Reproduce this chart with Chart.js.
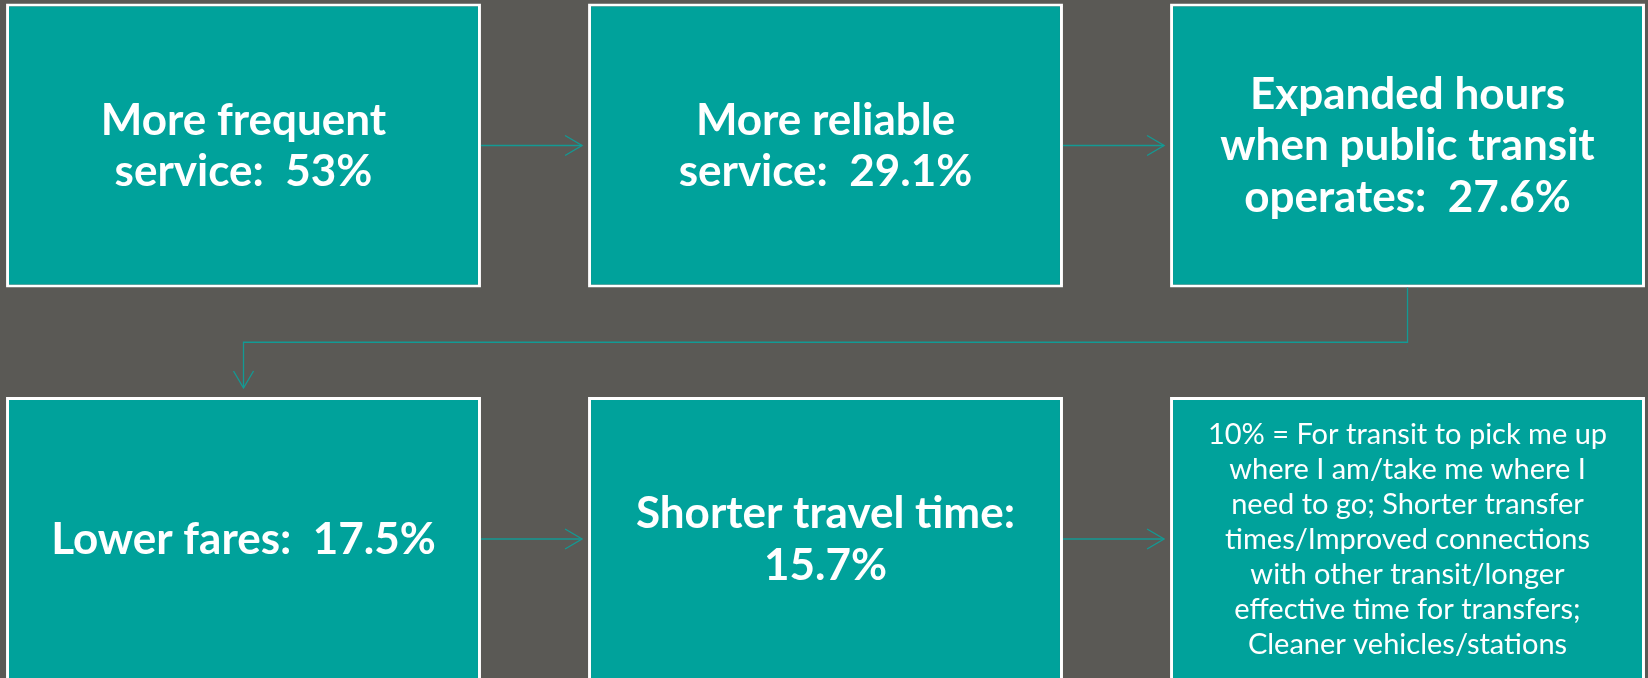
<!DOCTYPE html>
<html>
<head>
<meta charset="utf-8">
<script src="https://cdn.jsdelivr.net/npm/chart.js@4"></script>
<style>
  html, body { margin: 0; padding: 0; background: #5a5955; }
  #wrap { width: 1648px; height: 678px; }
</style>
</head>
<body>
<div id="wrap"><canvas id="flowChart"></canvas></div>
<script>
// Survey answers, in reading order (row 1 then row 2)
const categories = [
    'More frequent service',
    'More reliable service',
    'Expanded hours when public transit operates',
    'Lower fares',
    'Shorter travel time',
    'Other improvements'
];
const percentValues = [53, 29.1, 27.6, 17.5, 15.7, 10];

// Text shown in each box, line by line
const boxLines = [
    ['More frequent', 'service:  53%'],
    ['More reliable', 'service:  29.1%'],
    ['Expanded hours', 'when public transit', 'operates:  27.6%'],
    ['Lower fares:  17.5%'],
    ['Shorter travel time:', '15.7%'],
    ['10% = For transit to pick me up', 'where I am/take me where I', 'need to go; Shorter transfer',
     'times/Improved connections', 'with other transit/longer', 'effective time for transfers;',
     'Cleaner vehicles/stations']
];
const boldBox = [true, true, true, true, true, false];

const TEAL = '#00a29b';
const LINE_TEAL = '#139a94';
const COLS = 3;
const BOX_H = 0.7217;   // box height in row units

// Background
const bgPlugin = {
    id: 'bg',
    beforeDraw(chart) {
        const c = chart.ctx;
        c.save();
        c.fillStyle = '#5a5955';
        c.fillRect(0, 0, chart.width, chart.height);
        c.restore();
    }
};

function arrowHead(c, x, y, dir) {
    c.beginPath();
    if (dir === 'right') {
        c.moveTo(x - 17, y - 10); c.lineTo(x, y); c.lineTo(x - 17, y + 10);
    } else {
        c.moveTo(x - 10, y - 17); c.lineTo(x, y); c.lineTo(x + 10, y - 17);
    }
    c.stroke();
}

// Connectors and box text
const flowPlugin = {
    id: 'flow',
    afterDatasetsDraw(chart) {
        const c = chart.ctx;
        const els = chart.getDatasetMeta(0).data;
        const box = els.map(el => {
            const p = el.getProps(['x', 'y', 'base', 'width'], true);
            return { l: p.x - p.width / 2, r: p.x + p.width / 2, cx: p.x,
                     t: Math.min(p.y, p.base), b: Math.max(p.y, p.base), cy: (p.y + p.base) / 2 };
        });

        c.save();
        c.strokeStyle = LINE_TEAL;
        c.lineWidth = 1.3;
        for (let i = 0; i < box.length - 1; i++) {
            const a = box[i], n = box[i + 1];
            if ((i + 1) % COLS !== 0) {
                const tip = n.l - 6;
                c.beginPath(); c.moveTo(a.r, a.cy); c.lineTo(tip, a.cy); c.stroke();
                arrowHead(c, tip, a.cy, 'right');
            } else {
                const midY = a.b + (n.t - a.b) * 0.5;
                const tip = n.t - 9;
                c.beginPath();
                c.moveTo(a.cx, a.b); c.lineTo(a.cx, midY); c.lineTo(n.cx, midY); c.lineTo(n.cx, tip);
                c.stroke();
                arrowHead(c, n.cx, tip, 'down');
            }
        }
        c.restore();

        c.save();
        c.fillStyle = '#ffffff';
        c.textAlign = 'center';
        c.textBaseline = 'alphabetic';
        box.forEach((b, i) => {
            const lines = boxLines[i];
            const size = boldBox[i] ? 44 : 29;
            const lh = boldBox[i] ? 51.5 : 35;
            c.font = (boldBox[i] ? 'bold ' : '') + size + 'px Lato, "Open Sans", sans-serif';
            const cap = size * 0.68;
            lines.forEach((t, k) => {
                const y = b.cy + (k - (lines.length - 1) / 2) * lh + cap / 2;
                c.fillText(t, b.cx, y);
            });
        });
        c.restore();
    }
};

new Chart(document.getElementById('flowChart'), {
    type: 'bar',
    data: {
        labels: categories,
        datasets: [{
            label: 'Most wanted improvement (%)',
            data: percentValues.map((v, i) => {
                const row = Math.floor(i / COLS);
                return { x: i % COLS, y: [row, row + BOX_H], pct: v };
            }),
            backgroundColor: TEAL,
            borderColor: '#ffffff',
            borderWidth: 3,
            borderSkipped: false,
            grouped: false,
            categoryPercentage: 1,
            barPercentage: 0.816
        }]
    },
    options: {
        responsive: true,
        maintainAspectRatio: false,
        animation: false,
        layout: { padding: 0 },
        plugins: { legend: { display: false }, tooltip: { enabled: false } },
        scales: {
            x: {
                type: 'linear', display: false, offset: false, min: -0.4184, max: 2.4132,
                ticks: { stepSize: 1 },
                afterBuildTicks(axis) { axis.ticks = axis.ticks.filter(t => Number.isInteger(t.value)); }
            },
            y: { type: 'linear', display: false, reverse: true, min: -0.0089, max: 1.7141 }
        }
    },
    plugins: [bgPlugin, flowPlugin]
});
</script>
</body>
</html>
